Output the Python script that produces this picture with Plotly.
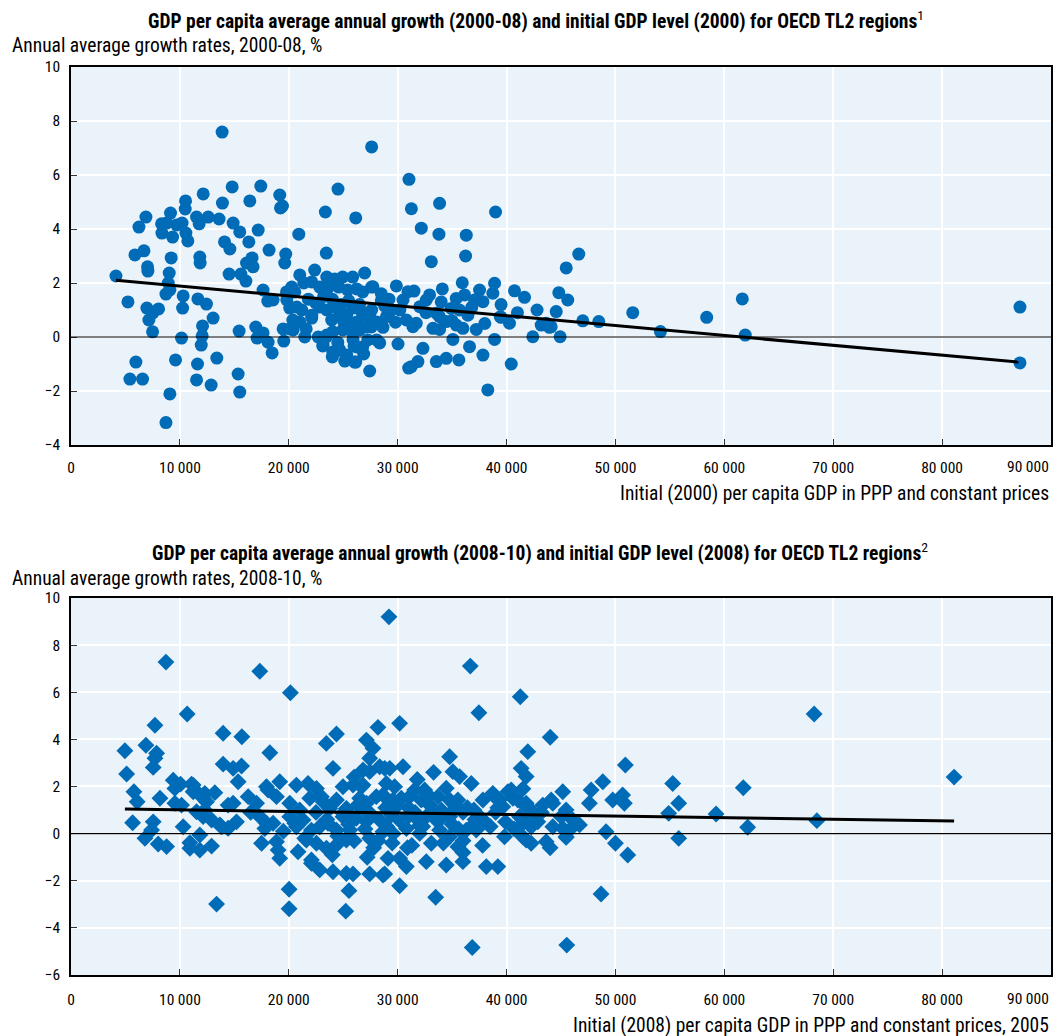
import plotly.graph_objects as go

# ---------------- DATA ----------------
# Panel 1: initial GDP per capita 2000 (x) vs growth 2000-08 (y)
gdp2000 = [
    4130, 5230, 5960, 5410, 6570, 5870, 6700, 6240, 6880, 7030, 7060, 6970, 8040, 7150, 7520, 7490,
    8320, 9140, 8350, 8780, 9330, 9700, 10200, 10550, 10730, 10490, 10520, 9200, 9020, 8930, 8720, 9080,
    8720, 9080, 9600, 10150, 10300, 10250, 11650, 12440, 13050, 12080, 12050, 11960, 11620, 11530, 12870, 13390,
    11830, 11860, 11530, 11770, 12140, 12600, 13600, 13910, 13880, 14800, 14890, 15500, 14100, 14590, 14520, 15600,
    16120, 16630, 16720, 16060, 16420, 16330, 17190, 17430, 18190, 17640, 18070, 18560, 15440, 16970, 17090, 17640,
    18100, 18470, 15350, 15500, 19170, 19240, 19420, 19720, 19630, 19480, 19540, 20400, 19790, 20920, 21470, 21010,
    22380, 23450, 23360, 24520, 26150, 27610, 23150, 23450, 24000, 24240, 25140, 26150, 25990, 26880, 27430, 27590,
    28350, 30030, 31010,
    23490, 24220, 24950, 25870, 26970, 27610, 20270, 20550, 21380, 22110, 22840, 23580, 24590, 25410, 26240, 26790,
    19820, 20090, 20730, 21190, 22110, 22840, 23490, 24130, 24680, 25320, 25870, 26700, 27610, 20370, 21010, 22110,
    23940, 24950, 25600, 26240, 27160, 27610, 28070, 20090, 23490, 24040, 24950, 25780, 26510, 27250, 28070, 23120,
    24040, 24680, 25320, 26240, 26790, 26050,
    33090, 36240, 45480, 29880, 30950, 32930, 34100, 35930, 36150, 37520, 38900, 38740, 37830, 37060, 40730, 41650,
    44800, 44560, 45620, 27730, 30490, 32630, 35380, 34920, 36450, 39510, 40270, 43180, 43940, 42410, 44920, 38900,
    37220, 35070, 33850, 28650, 27430, 28960, 31400, 32320, 31250, 31860, 33550, 34460, 35620, 36600, 37830, 40430,
    38280, 33850,
    28800, 29300, 29800, 28500, 30800, 31710, 33240, 34460, 35380, 35990, 32020, 33550, 35690,
    31040, 31260, 33850, 32170, 33790, 36300, 38990, 46630, 51590, 58380, 47000, 48470, 54130, 61650, 61920, 43640,
    44100, 39420, 87150, 87150,
    21800, 22500, 23200, 24000, 24800, 25500, 26500, 21600, 22700, 24500, 25900, 27000, 28500, 29200, 30200, 31500,
    32600, 34000, 35000, 36800, 38000, 39500, 41000, 42800,
]
growth_00_08 = [
    2.26, 1.30, -0.93, -1.56, -1.56, 3.04, 3.19, 4.07, 4.44, 2.60, 2.44, 1.07, 1.04, 0.63, 0.89, 0.19,
    4.19, 4.59, 3.85, 4.22, 3.70, 4.15, 4.22, 3.85, 3.56, 4.74, 5.04, 2.93, 2.37, 2.00, 1.59, 1.74,
    -3.17, -2.11, -0.85, -0.04, 1.52, 1.07, 1.41, 1.22, 0.70, 0.41, 0.04, -0.30, -1.00, -1.59, -1.78, -0.78,
    2.96, 2.74, 4.44, 4.19, 5.30, 4.44, 4.37, 4.96, 7.59, 5.56, 4.22, 3.89, 3.52, 3.26, 2.33, 2.33,
    2.74, 2.93, 2.60, 2.07, 5.04, 3.52, 3.96, 5.59, 3.22, 1.74, 1.33, 1.37, 0.22, 0.37, -0.04, 0.15,
    -0.19, -0.59, -1.37, -2.04, 5.26, 4.78, 4.85, 3.07, 2.74, 0.30, -0.15, 0.26, 1.67, 3.81, 0.00, 2.30,
    2.48, 3.11, 4.63, 5.48, 4.41, 7.04, -0.30, 0.00, -0.74, -0.55, -0.89, -0.93, -0.33, -0.63, -1.26, 0.37,
    -0.22, -0.26, -1.15,
    2.22, 2.15, 2.22, 2.22, 2.37, 1.85, 1.85, 1.67, 2.00, 2.04, 1.85, 1.81, 1.85, 1.74, 1.78, 1.67,
    1.37, 1.07, 1.11, 1.00, 0.81, 1.11, 1.00, 1.11, 0.93, 0.81, 1.07, 0.93, 1.00, 0.63, 0.56, 0.70,
    0.63, 0.63, 0.52, 0.56, 0.37, 0.44, 0.56, 0.30, 0.07, 0.19, 0.26, 0.19, 0.26, -0.11, -0.11, -0.33,
    -0.56, -0.48, -0.67, -0.37, -0.37, -0.93,
    2.79, 3.00, 2.56, 1.89, 1.68, 1.56, 1.78, 2.01, 1.56, 1.74, 1.99, 1.62, 1.31, 1.37, 1.71, 1.47,
    1.64, 0.94, 1.37, 1.86, 1.37, 1.37, 1.43, 1.06, 0.81, 0.73, 0.51, 0.44, 0.36, 0.01, 0.01, -0.09,
    0.28, -0.09, 0.28, 0.36, 0.75, 0.75, 0.38, -0.42, -1.10, -0.91, -0.91, -0.79, -0.85, -0.36, -0.67, -1.00,
    -1.96, 0.75,
    1.15, 0.95, 0.55, 1.35, 0.63, 0.51, 0.32, 0.57, 0.44, 0.32, 1.12, 0.88, 1.00,
    5.84, 4.75, 4.95, 4.03, 3.81, 3.77, 4.63, 3.07, 0.90, 0.73, 0.60, 0.57, 0.20, 1.41, 0.07, 0.51,
    0.38, 0.75, 1.11, -0.96,
    1.40, 1.25, 1.50, 1.40, 1.20, 1.35, 1.20, 0.30, 0.00, -0.20, -0.10, 0.80, 1.60, 1.40, 1.00, 1.70,
    0.90, 1.30, 0.60, 1.10, 0.50, 1.20, 0.90, 1.00,
]
trend1_x = [4130, 87000]
trend1_y = [2.10, -0.93]

# Panel 2: initial GDP per capita 2008 (x) vs growth 2008-10 (y)
gdp2008 = [
    8720, 17340, 20150, 10670, 7710, 4950, 6880, 7860, 7710, 7550, 5110, 13970, 15690, 18260, 23450, 24380,
    27130, 27730, 27430, 28190, 30180, 24060, 13970, 14890, 15660, 15350, 5780, 6080, 5660, 8170, 7550, 7400,
    6790, 8010, 8780, 9390, 10060, 9540, 11220, 11220, 9540, 10150, 10300, 10920, 11830, 11830, 12910, 12290,
    13210, 12440, 11530, 12140, 12910, 13670, 14430, 13370, 14430, 14890, 16270, 17040, 17340, 17950, 18560, 17500,
    18870, 19020, 19170, 17950, 19170, 20090, 20700, 21770, 22540, 20030, 20030, 20850, 21470, 20550, 21310, 22080,
    22840, 24060, 25530, 25230, 25900, 24980, 25900, 26670, 27430, 28350, 29270, 30490, 27430, 28810, 30180, 29110,
    30180, 30800,
    11070, 11380, 12140, 12290, 13820, 10920, 18100, 18870, 21930, 23000, 17800, 20090, 20700, 22080, 22840, 23600,
    24380, 24980, 25290, 21620, 22540, 23460, 24380, 25290, 22080, 25290, 23150, 23760, 24380,
    26820, 28810, 34770, 35070, 35690, 36760, 41950, 41340, 41800, 26820, 28960, 29720, 26510, 27130, 28040, 28650,
    29570, 30330, 31100, 31560, 32480, 32170, 32940, 33700, 34460, 34770, 35230, 35530, 24980, 25600, 26210, 27130,
    28350, 29420, 30800, 31860, 32630, 33850, 34770, 36910, 37680, 38740, 39350, 40120, 40580, 41800, 41190, 42410,
    42870, 25600, 27430, 28650, 30800, 32020, 33090, 33850, 34770, 35530, 36300, 37220, 39810, 41490, 42260, 28650,
    32630, 34460, 35990, 38140, 39200,
    44010, 50910, 55260, 48840, 47770, 47610, 45160, 44100, 43330, 49750, 50660, 50820, 55810, 54890, 59240, 45010,
    46080, 46700, 45160, 45470, 49140, 50000, 51130, 55810, 43640, 29200, 36670, 41260, 37460, 48680, 36850, 45530,
    33490, 61740, 62140, 37830, 38900, 39660, 40430, 41040, 41800, 41490, 42260, 41800, 45470, 44250, 45780, 44250,
    45470,
    31000, 32000, 33000, 34000, 35000, 36000, 37000, 30000, 29000, 27000, 26000, 27800, 29500, 31300, 36000, 38000,
    39000,
    68250, 68500, 81100,
    22500, 23500, 24500, 25500, 26300, 27000, 27600, 28200, 28900, 29600, 30300, 30900, 31600, 32300, 32900, 33500,
    34200, 34900, 35600, 36400, 37100, 37800, 38500, 39200, 39900, 40700, 41500, 42300, 43200, 44000, 26000, 31800,
    33300, 24000, 27200, 36000, 21000, 19500, 16500, 15200,
]
growth_08_10 = [
    7.28, 6.89, 5.98, 5.08, 4.60, 3.52, 3.75, 3.41, 3.20, 2.81, 2.53, 4.26, 4.11, 3.43, 3.83, 4.23,
    3.97, 3.62, 3.20, 4.51, 4.68, 2.77, 2.95, 2.77, 2.87, 2.20, 1.78, 1.35, 0.46, 1.50, 0.50, 0.15,
    -0.20, -0.44, -0.55, 2.27, 2.10, 1.92, 2.06, 1.78, 1.29, 1.21, 0.29, -0.62, -0.70, -0.06, -0.53, 1.71,
    1.74, 1.35, 0.93, 0.72, 0.58, 0.37, 0.23, -2.99, 1.21, 1.29, 1.57, 1.29, 0.72, 0.44, 0.44, -0.41,
    -0.34, -0.70, -1.05, 1.99, 2.20, 1.29, 2.06, 2.13, 1.92, -2.36, -3.19, -0.77, -0.20, 0.44, 0.58, -1.26,
    -1.54, -1.62, -2.42, -3.29, -1.71, 1.99, 2.06, 1.99, 2.63, 2.84, 2.77, 2.84, -1.71, -1.71, -2.21, -1.05,
    -1.05, -1.40,
    2.10, 1.85, 1.50, 1.00, 0.29, -0.39, 1.85, 1.57, 1.50, 1.57, 0.22, 0.72, 0.29, 0.15, 0.29, 0.44,
    0.15, 0.72, 1.07, -0.27, -0.41, -0.62, -0.48, -0.27, -1.12, -1.69, 1.35, 1.07, 1.43,
    2.70, 2.77, 3.26, 2.63, 2.42, 2.13, 3.48, 2.77, 2.42, 2.06, 2.13, 1.99, 1.50, 1.29, 1.57, 1.64,
    1.43, 1.50, 1.57, 1.85, 1.85, 1.43, 1.21, 1.57, 1.93, 1.43, 1.21, 1.43, 0.86, 0.79, 0.65, 0.51,
    0.58, 0.79, 0.65, 0.58, 0.72, 0.58, 0.72, 0.37, 0.65, 1.71, 1.43, 1.78, 1.50, 1.29, 0.72, 0.93,
    0.50, 0.15, -0.20, 0.08, 0.22, 0.01, -0.41, 0.15, -0.13, -0.56, 0.15, 0.15, -0.13, -0.13, -0.41, -1.76,
    -1.19, -1.33, -1.19, -1.40, -1.40,
    4.09, 2.91, 2.13, 2.20, 1.85, 1.29, 1.78, 1.43, 1.21, 1.43, 1.64, 1.29, 1.29, 0.86, 0.83, 0.72,
    0.58, 0.37, 0.23, -0.13, 0.08, -0.41, -0.91, -0.20, -0.34, 9.20, 7.11, 5.81, 5.13, -2.56, -4.83, -4.73,
    -2.70, 1.95, 0.27, 1.43, 1.57, 1.14, 1.85, 1.43, 1.14, 0.44, 0.29, -0.27, -0.16, 0.29, 0.15, 1.29,
    1.00,
    1.10, 0.35, 0.90, 1.00, 0.40, 0.90, 1.00, 1.20, 0.30, 1.00, -0.30, -0.60, -0.40, -0.50, -0.30, 0.50,
    0.90,
    5.08, 0.55, 2.40,
    0.90, 0.60, -0.10, 0.40, 1.20, 0.20, 0.80, -0.30, 1.10, 0.00, 0.50, -0.60, 0.90, 0.30, 1.60, 0.60,
    -0.40, 0.90, 0.20, 1.10, 0.60, -0.50, 0.30, 1.10, 0.50, 0.20, 1.90, 0.60, 0.90, -0.60, 2.40, 2.30,
    2.60, -0.90, -1.00, -0.80, 1.00, 0.10, 0.90, 0.50,
]
trend2_x = [4950, 81100]
trend2_y = [1.04, 0.54]

x_tickvals = [0, 10000, 20000, 30000, 40000, 50000, 60000, 70000, 80000]
x_ticktext = ["0", "10 000", "20 000", "30 000", "40 000", "50 000", "60 000", "70 000", "80 000"]
x_last_label = "90 000"
y1_tickvals = [-4, -2, 0, 2, 4, 6, 8, 10]
y2_tickvals = [-6, -4, -2, 0, 2, 4, 6, 8, 10]

title1 = "<b>GDP per capita average annual growth (2000-08) and initial GDP level (2000) for OECD TL2 regions</b><sup>1</sup>"
title2 = "<b>GDP per capita average annual growth (2008-10) and initial GDP level (2008) for OECD TL2 regions</b><sup>2</sup>"
ytitle1 = "Annual average growth rates, 2000-08, %"
ytitle2 = "Annual average growth rates, 2008-10, %"
xtitle1 = "Initial (2000) per capita GDP in PPP and constant prices"
xtitle2 = "Initial (2008) per capita GDP in PPP and constant prices, 2005"

# ---------------- STYLE ----------------
FONT = "Liberation Sans Narrow, Roboto Condensed, DejaVu Sans Condensed, Arial Narrow, sans-serif"
BLUE = "#006BB6"
BG = "#EBF3FA"

fig = go.Figure()
fig.add_trace(go.Scatter(x=gdp2000, y=growth_00_08, mode="markers", xaxis="x", yaxis="y",
                         marker=dict(symbol="circle", size=13, color=BLUE, line=dict(width=0)),
                         showlegend=False))
fig.add_trace(go.Scatter(x=trend1_x, y=trend1_y, mode="lines", xaxis="x", yaxis="y",
                         line=dict(color="black", width=3), showlegend=False))
fig.add_trace(go.Scatter(x=gdp2008, y=growth_08_10, mode="markers", xaxis="x2", yaxis="y2",
                         marker=dict(symbol="diamond", size=13, color=BLUE, line=dict(width=0)),
                         showlegend=False))
fig.add_trace(go.Scatter(x=trend2_x, y=trend2_y, mode="lines", xaxis="x2", yaxis="y2",
                         line=dict(color="black", width=3), showlegend=False))

axis_common = dict(showgrid=True, gridcolor="white", gridwidth=1.5, showline=True, linecolor="black",
                   linewidth=1.5, mirror=True, ticks="inside", ticklen=6, tickcolor="#333",
                   tickfont=dict(family=FONT, size=15.5, color="black"), zeroline=False)

fig.update_layout(
    width=1057, height=1036,
    margin=dict(l=71, r=4, t=67, b=61),
    paper_bgcolor="white", plot_bgcolor=BG,
    font=dict(family=FONT, size=16, color="black"),
    xaxis=dict(domain=[0, 1], anchor="y", range=[0, 90000], tickvals=x_tickvals, ticktext=x_ticktext,
               ticklabelstandoff=8, **axis_common),
    yaxis=dict(domain=[0.5837, 1], anchor="x", range=[-4, 10], tickvals=y1_tickvals,
               ticklabelstandoff=6, **axis_common),
    xaxis2=dict(domain=[0, 1], anchor="y2", range=[0, 90000], tickvals=x_tickvals, ticktext=x_ticktext,
                ticklabelstandoff=10, **axis_common),
    yaxis2=dict(domain=[0, 0.4152], anchor="x2", range=[-6, 10], tickvals=y2_tickvals,
                ticklabelstandoff=6, **axis_common),
)

# zero reference lines drawn above markers
for yref, xref in (("y", "x"), ("y2", "x2")):
    fig.add_shape(type="line", xref=f"{xref} domain", yref=yref, x0=0, x1=1, y0=0, y1=0,
                  line=dict(color="black", width=1.2), layer="above")

ann = []
ann.append(dict(text=title1, x=0.474, y=1.0518, xref="paper", yref="paper", xanchor="center", yanchor="middle",
                showarrow=False, font=dict(family=FONT, size=19.5)))
ann.append(dict(text=title2, x=0.479, y=0.4659, xref="paper", yref="paper", xanchor="center", yanchor="middle",
                showarrow=False, font=dict(family=FONT, size=19.5)))
ann.append(dict(text=ytitle1, x=-0.0621, y=1.0242, xref="paper", yref="paper", xanchor="left", yanchor="middle",
                showarrow=False, font=dict(family=FONT, size=19.5)))
ann.append(dict(text=ytitle2, x=-0.0621, y=0.4372, xref="paper", yref="paper", xanchor="left", yanchor="middle",
                showarrow=False, font=dict(family=FONT, size=19.5)))
ann.append(dict(text=xtitle1, x=1, y=0.5308, xref="paper", yref="paper", xanchor="right", yanchor="middle",
                showarrow=False, font=dict(family=FONT, size=19.5)))
ann.append(dict(text=xtitle2, x=1, y=-0.0551, xref="paper", yref="paper", xanchor="right", yanchor="middle",
                showarrow=False, font=dict(family=FONT, size=19.5)))
ann.append(dict(text=x_last_label, x=1, y=0.5595, xref="paper", yref="paper", xanchor="right", yanchor="middle",
                showarrow=False, font=dict(family=FONT, size=15.5)))
ann.append(dict(text=x_last_label, x=1, y=-0.0264, xref="paper", yref="paper", xanchor="right", yanchor="middle",
                showarrow=False, font=dict(family=FONT, size=15.5)))
fig.update_layout(annotations=ann)

fig.write_html("out.html")
